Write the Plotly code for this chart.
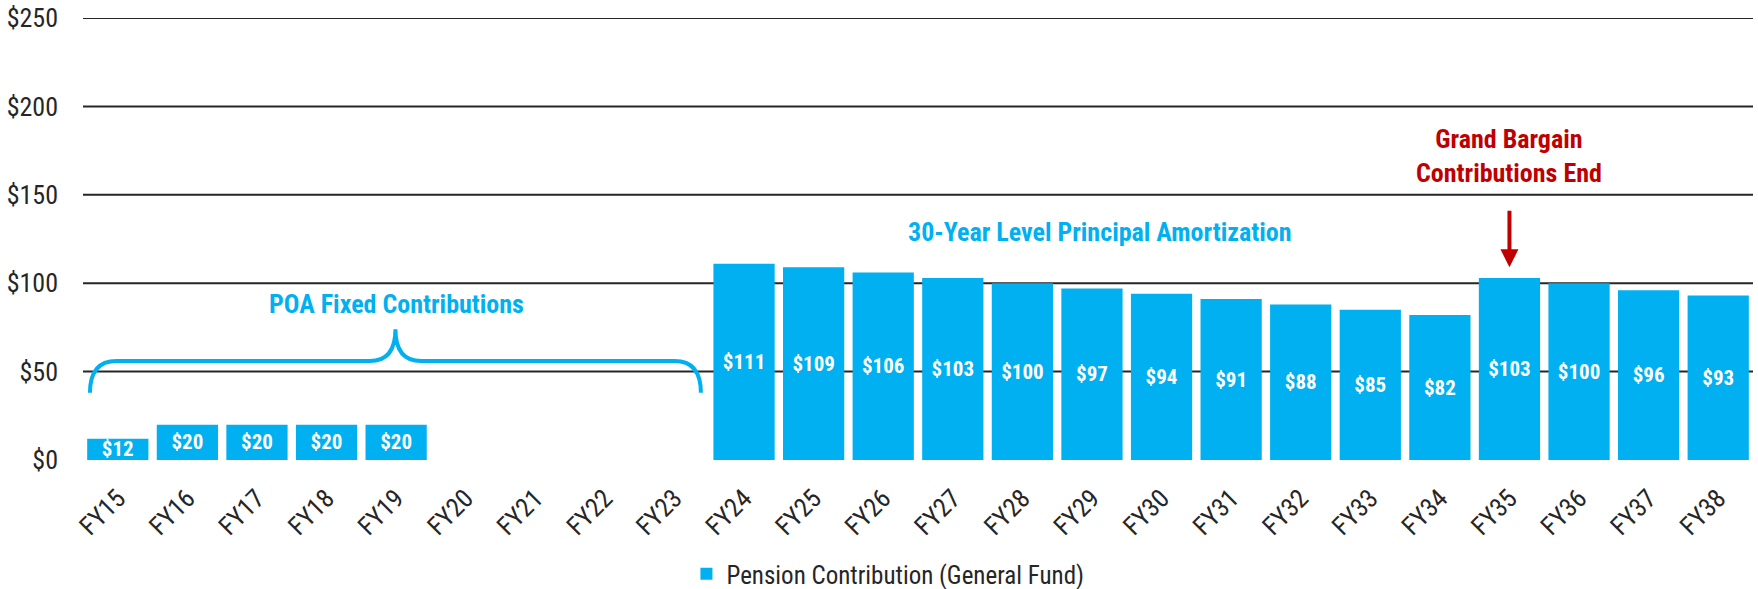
import plotly.graph_objects as go

categories = ["FY15", "FY16", "FY17", "FY18", "FY19", "FY20", "FY21", "FY22", "FY23",
              "FY24", "FY25", "FY26", "FY27", "FY28", "FY29", "FY30", "FY31", "FY32",
              "FY33", "FY34", "FY35", "FY36", "FY37", "FY38"]
contributions = [12, 20, 20, 20, 20, 0, 0, 0, 0,
                 111, 109, 106, 103, 100, 97, 94, 91, 88, 85, 82, 103, 100, 96, 93]
y_ticks = [0, 50, 100, 150, 200, 250]
y_tick_labels = ["$0", "$50", "$100", "$150", "$200", "$250"]

BLUE = "#00b0f0"
RED = "#c00000"
GRID = "#262626"
FONT = "Liberation Sans Narrow, Arial Narrow, Roboto Condensed, Liberation Sans, sans-serif"

labels = [f"${v}" if v > 0 else "" for v in contributions]

fig = go.Figure()
fig.add_trace(go.Bar(
    x=categories, y=contributions, name="Pension Contribution (General Fund)",
    marker=dict(color=BLUE, line=dict(width=0)),
    text=labels, textposition="inside", insidetextanchor="middle",
    constraintext="none", cliponaxis=False,
    textfont=dict(family=FONT, size=21, color="white", weight="bold"),
    hoverinfo="skip",
))

# horizontal gridlines (drawn as shapes so the top one at $250 shows too)
for t in y_ticks[1:]:
    fig.add_shape(type="line", xref="paper", yref="y", x0=0, x1=1, y0=t, y1=t,
                  line=dict(color=GRID, width=2), layer="below")

# brace over the POA fixed-contribution years (FY15-FY23), tip at FY19
brace_path = ("M -0.40,38 Q -0.40,56 -0.02,56 L 3.62,56 Q 3.99,56 3.99,74 "
              "Q 3.99,56 4.36,56 L 8.0,56 Q 8.38,56 8.38,38")
fig.add_shape(type="path", path=brace_path, xref="x", yref="y",
              line=dict(color=BLUE, width=4), layer="above")

fig.add_annotation(x="FY19", y=88, text="<b>POA Fixed Contributions</b>", showarrow=False,
                   font=dict(family=FONT, size=26, color=BLUE), xanchor="center", yanchor="middle")
fig.add_annotation(x=14.12, y=129, text="<b>30-Year Level Principal Amortization</b>", showarrow=False,
                   font=dict(family=FONT, size=26, color=BLUE), xanchor="center", yanchor="middle")
fig.add_annotation(x="FY35", y=172, text="<b>Grand Bargain<br>Contributions End</b>", showarrow=False,
                   font=dict(family=FONT, size=26, color=RED), xanchor="center", yanchor="middle")
fig.add_annotation(x="FY35", y=109, text="", showarrow=True, ax=0, ay=-58,
                   arrowhead=2, arrowsize=0.9, arrowwidth=4, arrowcolor=RED)

fig.update_layout(
    width=1758, height=589,
    margin=dict(l=83, r=5, t=18, b=129, autoexpand=False),
    paper_bgcolor="white", plot_bgcolor="white",
    bargap=0.12,
    showlegend=True,
    legend=dict(orientation="h", x=0.482, xanchor="center", y=-0.258, yanchor="middle",
                font=dict(family=FONT, size=25, color=GRID)),
    font=dict(family=FONT, color=GRID),
)
fig.update_xaxes(type="category", tickangle=-45, showgrid=False, zeroline=False, showline=False,
                 automargin=False,
                 tickfont=dict(family=FONT, size=26, color=GRID), ticklabelstandoff=17)
fig.update_yaxes(range=[0, 250], tickvals=y_ticks, ticktext=y_tick_labels,
                 showgrid=False, zeroline=False, showline=False, automargin=False,
                 tickfont=dict(family=FONT, size=26, color=GRID), ticklabelstandoff=24)

fig.write_html("out.html", config={"displayModeBar": False},
               post_script="document.body.style.margin='0';document.body.style.overflow='hidden';")
